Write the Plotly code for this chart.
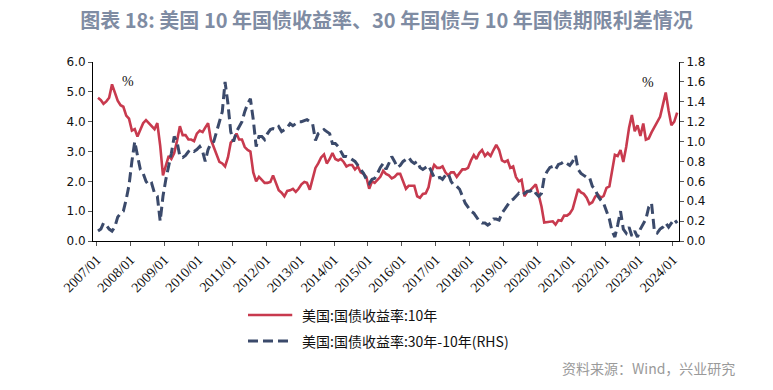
import pandas as pd
import plotly.graph_objects as go

# Monthly observations, 2007/01 .. 2024/02
months = pd.date_range("2007-01-01", "2024-02-01", freq="MS") + pd.Timedelta(days=14)

us10y = [
    4.80, 4.72, 4.60, 4.68, 4.80, 5.25, 4.98, 4.70, 4.55, 4.50, 4.20, 4.10,  # 2007
    3.70, 3.75, 3.50, 3.75, 3.95, 4.05, 3.95, 3.85, 3.75, 3.95, 3.20, 2.20,  # 2008
    2.55, 2.85, 2.75, 2.95, 3.35, 3.85, 3.55, 3.55, 3.40, 3.40, 3.35, 3.60,  # 2009
    3.70, 3.65, 3.80, 3.95, 3.40, 3.15, 2.95, 2.65, 2.60, 2.50, 2.80, 3.30,  # 2010
    3.40, 3.60, 3.40, 3.40, 3.15, 3.05, 3.00, 2.30, 2.00, 2.15, 2.05, 1.95,  # 2011
    1.95, 1.98, 2.20, 1.95, 1.70, 1.62, 1.50, 1.68, 1.70, 1.75, 1.65, 1.75,  # 2012
    1.90, 1.98, 1.95, 1.72, 2.10, 2.45, 2.60, 2.80, 2.90, 2.60, 2.75, 2.95,  # 2013
    2.75, 2.70, 2.75, 2.65, 2.50, 2.55, 2.55, 2.40, 2.50, 2.30, 2.25, 2.15,  # 2014
    1.75, 2.00, 1.95, 2.05, 2.15, 2.35, 2.25, 2.20, 2.10, 2.15, 2.25, 2.25,  # 2015
    2.00, 1.75, 1.85, 1.85, 1.85, 1.50, 1.45, 1.58, 1.60, 1.80, 2.30, 2.55,  # 2016
    2.45, 2.45, 2.50, 2.30, 2.20, 2.30, 2.30, 2.15, 2.30, 2.40, 2.40, 2.45,  # 2017
    2.70, 2.88, 2.75, 2.95, 3.05, 2.85, 2.95, 2.85, 3.05, 3.22, 3.05, 2.70,  # 2018
    2.65, 2.70, 2.45, 2.50, 2.15, 2.00, 2.05, 1.50, 1.65, 1.70, 1.80, 1.90,  # 2019
    1.55, 1.15, 0.62, 0.64, 0.65, 0.66, 0.55, 0.70, 0.68, 0.85, 0.85, 0.92,  # 2020
    1.07, 1.40, 1.74, 1.63, 1.58, 1.45, 1.24, 1.30, 1.49, 1.55, 1.45, 1.51,  # 2021
    1.78, 1.83, 2.32, 2.89, 2.85, 3.05, 2.65, 3.15, 3.80, 4.22, 3.68, 3.88,  # 2022
    3.52, 3.94, 3.40, 3.44, 3.64, 3.81, 3.96, 4.16, 4.57, 4.98, 4.37, 3.88,  # 2023
    4.00, 4.30,                                                              # 2024
]

spread_30_10 = [
    0.10, 0.12, 0.18, 0.16, 0.12, 0.10, 0.14, 0.24, 0.28, 0.30, 0.42, 0.56,  # 2007
    0.80, 1.00, 0.86, 0.72, 0.68, 0.60, 0.56, 0.58, 0.48, 0.45, 0.20, 0.45,  # 2008
    0.62, 0.75, 0.88, 1.05, 1.00, 0.85, 0.84, 0.86, 0.90, 0.92, 0.90, 0.92,  # 2009
    0.95, 0.90, 0.80, 0.92, 0.98, 1.00, 1.10, 1.22, 1.30, 1.60, 1.38, 1.10,  # 2010
    1.00, 1.10, 1.15, 1.20, 1.30, 1.38, 1.43, 1.22, 0.95, 1.05, 1.05, 1.02,  # 2011
    1.08, 1.12, 1.13, 1.12, 1.15, 1.10, 1.12, 1.14, 1.18, 1.16, 1.18, 1.20,  # 2012
    1.20, 1.21, 1.22, 1.20, 1.18, 1.01, 1.08, 1.10, 1.12, 1.10, 1.08, 0.98,  # 2013
    0.98, 0.95, 0.90, 0.85, 0.85, 0.84, 0.82, 0.80, 0.76, 0.72, 0.68, 0.62,  # 2014
    0.58, 0.62, 0.63, 0.68, 0.74, 0.78, 0.72, 0.78, 0.85, 0.80, 0.74, 0.76,  # 2015
    0.80, 0.82, 0.84, 0.80, 0.78, 0.80, 0.74, 0.72, 0.74, 0.76, 0.70, 0.64,  # 2016
    0.63, 0.64, 0.62, 0.66, 0.68, 0.60, 0.56, 0.55, 0.52, 0.46, 0.38, 0.34,  # 2017
    0.30, 0.28, 0.24, 0.20, 0.18, 0.18, 0.16, 0.18, 0.22, 0.22, 0.21, 0.28,  # 2018
    0.32, 0.36, 0.40, 0.42, 0.45, 0.48, 0.46, 0.48, 0.50, 0.50, 0.52, 0.48,  # 2019
    0.45, 0.48, 0.64, 0.70, 0.74, 0.75, 0.72, 0.77, 0.78, 0.80, 0.78, 0.76,  # 2020
    0.80, 0.86, 0.72, 0.68, 0.66, 0.64, 0.64, 0.55, 0.52, 0.45, 0.41, 0.38,  # 2021
    0.30, 0.22, 0.10, 0.04, 0.16, 0.30, 0.12, 0.08, 0.14, 0.05, 0.10, 0.04,  # 2022
    0.12, 0.18, 0.22, 0.34, 0.38, 0.10, 0.08, 0.12, 0.14, 0.18, 0.14, 0.18,  # 2023
    0.22, 0.18,                                                              # 2024
]

name_10y = "美国:国债收益率:10年"
name_spread = "美国:国债收益率:30年-10年(RHS)"
title_text = "图表 18: 美国 10 年国债收益率、30 年国债与 10 年国债期限利差情况"
source_text = "资料来源：Wind，兴业研究"

RED = "#C83A4E"
BLUE = "#3B4A6B"

fig = go.Figure()
fig.add_trace(go.Scatter(x=months, y=us10y, name=name_10y, mode="lines",
                         line=dict(color=RED, width=2.6), showlegend=False))
fig.add_trace(go.Scatter(x=months, y=spread_30_10, name=name_spread, mode="lines",
                         line=dict(color=BLUE, width=3, dash="10px,5px"),
                         yaxis="y2", showlegend=False))

tick_font = dict(family="DejaVu Sans", size=12, color="#111")
fig.update_layout(
    width=773, height=390,
    margin=dict(l=93, r=94, t=62, b=149),
    paper_bgcolor="white", plot_bgcolor="white",
    title=dict(text=title_text, x=0.5, xanchor="center", y=0.945, yanchor="middle",
               font=dict(family="Noto Sans CJK SC", size=20, color="#7F8CA3", weight="bold")),
    xaxis=dict(type="date", range=["2006-11-22", "2024-03-06"],
               tick0="2007-01-01", dtick="M12", tickformat="%Y/%m",
               tickangle=-45, ticks="outside", ticklen=4, tickcolor="#555",
               showline=True, linecolor="#000", linewidth=1, showgrid=False,
               tickfont=dict(family="Liberation Serif", size=14, color="#111")),
    yaxis=dict(range=[0, 6], dtick=1, tickformat=".1f", ticks="outside", ticklen=4,
               tickcolor="#555", showline=True, linecolor="#000", linewidth=1,
               showgrid=False, zeroline=False, tickfont=tick_font),
    yaxis2=dict(range=[0, 1.8], dtick=0.2, tickformat=".1f", ticks="outside", ticklen=4,
                tickcolor="#555", showline=True, linecolor="#000", linewidth=1,
                showgrid=False, zeroline=False, overlaying="y", side="right",
                tickfont=tick_font),
)

# "%" unit marks
fig.add_annotation(xref="paper", yref="paper", x=0.046, y=0.944, text="%", showarrow=False,
                   font=dict(family="Liberation Serif", size=14, color="#111"))
fig.add_annotation(xref="paper", yref="paper", x=0.961, y=0.939, text="%", showarrow=False,
                   font=dict(family="Liberation Serif", size=14, color="#111"))

# Legend (drawn manually)
leg_font = dict(family="Noto Sans CJK SC", size=14, color="#111")
fig.add_shape(type="line", xref="paper", yref="paper", x0=0.2645, x1=0.34, y0=-0.413, y1=-0.413,
              line=dict(color=RED, width=2.6))
fig.add_annotation(xref="paper", yref="paper", x=0.353, y=-0.413, xanchor="left", yanchor="middle",
                   text=name_10y, showarrow=False, font=leg_font)
fig.add_shape(type="line", xref="paper", yref="paper", x0=0.2645, x1=0.34, y0=-0.559, y1=-0.559,
              line=dict(color=BLUE, width=3, dash="10px,5px"))
fig.add_annotation(xref="paper", yref="paper", x=0.353, y=-0.559, xanchor="left", yanchor="middle",
                   text=name_spread, showarrow=False, font=leg_font)

fig.add_annotation(xref="paper", yref="paper", x=1.099, y=-0.709, xanchor="right", yanchor="middle",
                   text=source_text, showarrow=False,
                   font=dict(family="Noto Sans CJK SC", size=14, color="#9A9A9A"))

fig.write_html("out.html", config={"displayModeBar": False},
               post_script="document.body.style.margin='0';")
